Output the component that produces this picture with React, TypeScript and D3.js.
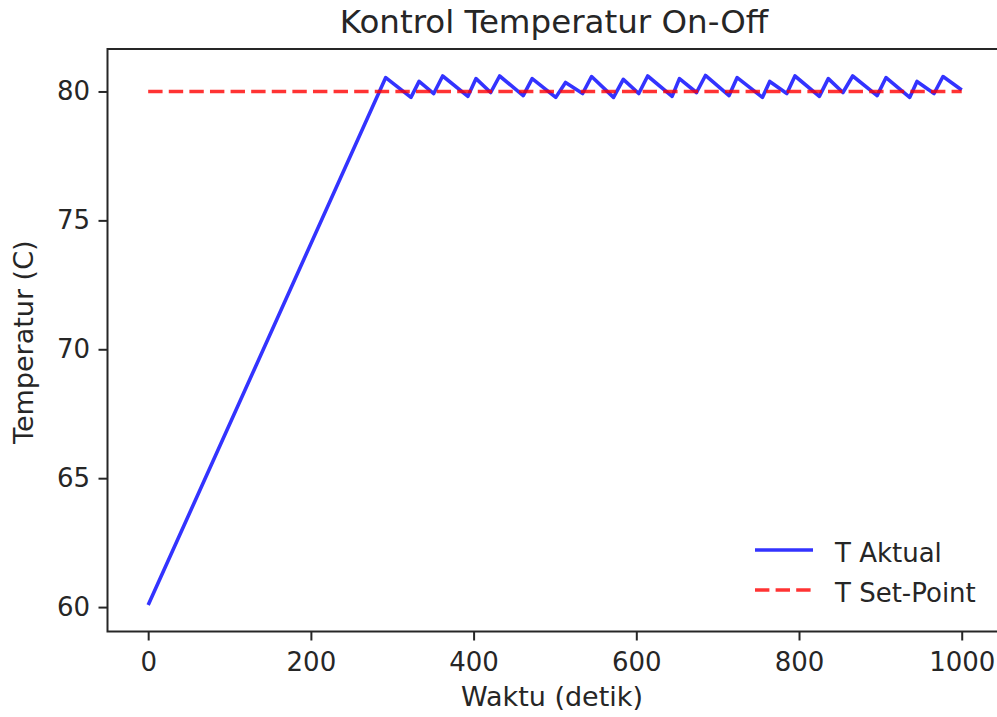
import * as d3 from "d3";
import { useRef, useEffect } from "react";

// waktu (detik) dan temperatur aktual
const waktu = [
  0, 292, 323, 333, 351, 362, 393, 403, 421, 432, 461, 472, 501, 513, 534,
  545, 572, 584, 603, 614, 644, 653, 674, 685, 714, 724, 755, 764, 785, 795,
  825, 836, 854, 866, 896, 907, 936, 945, 966, 977, 1000,
];
const tAktual = [
  60.08, 80.54, 79.77, 80.39, 79.92, 80.6, 79.81, 80.5, 79.96, 80.6, 79.84,
  80.5, 79.77, 80.35, 79.92, 80.58, 79.77, 80.47, 79.92, 80.6, 79.81, 80.5,
  79.96, 80.62, 79.84, 80.54, 79.77, 80.39, 79.92, 80.6, 79.81, 80.5, 79.96,
  80.6, 79.84, 80.54, 79.77, 80.39, 79.92, 80.58, 80.06,
];
const setPoint = 80;
const xTicks = [0, 200, 400, 600, 800, 1000];
const yTicks = [60, 65, 70, 75, 80];
const legendLabels = ["T Aktual", "T Set-Point"];

const FONT = "DejaVu Sans, sans-serif";

const App = () => {
  const container = useRef<HTMLDivElement>(null);

  useEffect(() => {
    createChart();
  });

  const createChart = () => {
    const node = container.current;
    const width = 997;
    const height = 717;
    const margins = { t: 49, b: 85.5, l: 107.5, r: -5.4 };
    const chartdims = {
      width: width - margins.l - margins.r,
      height: height - margins.t - margins.b,
    };

    const data = waktu.map((w, i) => ({ x: w, y: tAktual[i] }));

    // matplotlib style 5% margins
    const xExt = d3.extent(waktu) as [number, number];
    const yExt = d3.extent([...tAktual, setPoint]) as [number, number];
    const xPad = (xExt[1] - xExt[0]) * 0.05;
    const yPad = (yExt[1] - yExt[0]) * 0.05;

    const xScale = d3
      .scaleLinear()
      .domain([xExt[0] - xPad, xExt[1] + xPad])
      .range([0, chartdims.width]);
    const yScale = d3
      .scaleLinear()
      .domain([yExt[0] - yPad, yExt[1] + yPad])
      .range([chartdims.height, 0]);

    const svg = d3
      .select(node)
      .selectAll("svg")
      .data([0])
      .join("svg")
      .attr("width", width)
      .attr("height", height)
      .style("display", "block")
      .style("background", "#fff");

    svg.selectAll("*").remove();

    const plot_g = svg
      .append("g")
      .attr("transform", `translate(${margins.l}, ${margins.t})`);

    // axes
    const xAxis = d3
      .axisBottom(xScale)
      .tickValues(xTicks)
      .tickSize(9)
      .tickSizeOuter(0)
      .tickPadding(12)
      .tickFormat(d3.format("d"));
    const yAxis = d3
      .axisLeft(yScale)
      .tickValues(yTicks)
      .tickSize(9)
      .tickSizeOuter(0)
      .tickPadding(8.5)
      .tickFormat(d3.format("d"));

    const xg = plot_g
      .append("g")
      .attr("transform", `translate(0, ${chartdims.height})`)
      .call(xAxis);
    const yg = plot_g.append("g").call(yAxis);

    [xg, yg].forEach((g) => {
      g.select(".domain").remove();
      g.selectAll("line").attr("stroke", "#262626").attr("stroke-width", 2);
      g.selectAll("text")
        .attr("fill", "#262626")
        .style("font-family", FONT)
        .style("font-size", "26px");
    });

    // lines
    const line = d3
      .line<{ x: number; y: number }>()
      .x((d) => xScale(d.x))
      .y((d) => yScale(d.y));

    plot_g
      .append("path")
      .datum(data)
      .attr("d", line)
      .attr("fill", "none")
      .attr("stroke", "#0000ff")
      .attr("stroke-opacity", 0.8)
      .attr("stroke-width", 3.6)
      .attr("stroke-linejoin", "round");

    plot_g
      .append("line")
      .attr("x1", xScale(xExt[0]))
      .attr("x2", xScale(xExt[1]))
      .attr("y1", yScale(setPoint))
      .attr("y2", yScale(setPoint))
      .attr("stroke", "#ff0000")
      .attr("stroke-opacity", 0.8)
      .attr("stroke-width", 3.6)
      .attr("stroke-dasharray", "14.4 6.2");

    // frame
    plot_g
      .append("rect")
      .attr("width", chartdims.width)
      .attr("height", chartdims.height)
      .attr("fill", "none")
      .attr("stroke", "#262626")
      .attr("stroke-width", 2);

    // titles
    svg
      .append("text")
      .attr("x", 554)
      .attr("y", 33)
      .attr("text-anchor", "middle")
      .attr("fill", "#262626")
      .style("font-family", FONT)
      .style("font-size", "32.5px")
      .text("Kontrol Temperatur On-Off");

    svg
      .append("text")
      .attr("x", 552)
      .attr("y", 706)
      .attr("text-anchor", "middle")
      .attr("fill", "#262626")
      .style("font-family", FONT)
      .style("font-size", "27px")
      .text("Waktu (detik)");

    svg
      .append("text")
      .attr(
        "transform",
        `translate(33, ${margins.t + chartdims.height / 2 + 2}) rotate(-90)`
      )
      .attr("text-anchor", "middle")
      .attr("fill", "#262626")
      .style("font-family", FONT)
      .style("font-size", "27px")
      .text("Temperatur (C)");

    // legend
    const legend_g = svg.append("g").attr("transform", "translate(755, 550)");
    const styles = [
      { color: "#0000ff", dash: null },
      { color: "#ff0000", dash: "14.4 6.2" },
    ];
    legendLabels.forEach((lab, i) => {
      const yy = i * 40;
      legend_g
        .append("line")
        .attr("x1", 0)
        .attr("x2", 58)
        .attr("y1", yy)
        .attr("y2", yy)
        .attr("stroke", styles[i].color)
        .attr("stroke-opacity", 0.8)
        .attr("stroke-width", 3.6)
        .attr("stroke-dasharray", styles[i].dash);
      legend_g
        .append("text")
        .attr("x", 80)
        .attr("y", yy + 12)
        .attr("fill", "#262626")
        .style("font-family", FONT)
        .style("font-size", "26px")
        .text(lab);
    });
  };

  return (
    <div
      ref={container}
      style={{ position: "absolute", left: 0, top: 0 }}
    ></div>
  );
};

export default App;
